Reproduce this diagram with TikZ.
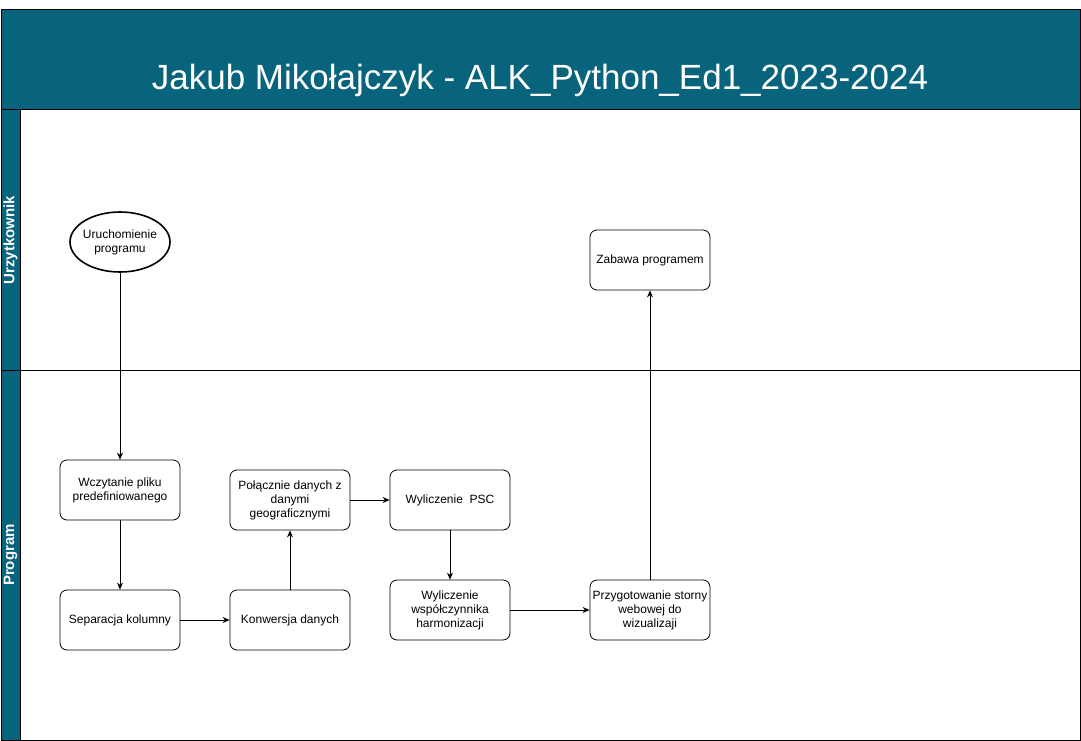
\documentclass[tikz,border=0pt]{standalone}
\usepackage{fontspec}
\setmainfont{Liberation Sans}
\usetikzlibrary{shapes.geometric}
\usetikzlibrary{arrows.meta}
\usetikzlibrary{positioning}
\definecolor{lanebg}{HTML}{08637C}

\begin{document}
\begin{tikzpicture}[x=1pt,y=-1pt,
        box/.style={draw, rounded corners=7pt, minimum width=120pt, minimum height=60pt,
            align=center, font=\fontsize{12}{14}\selectfont, line width=0.8pt},
        flow/.style={-{Stealth[length=7pt,width=6pt]}, line width=0.8pt},
        lanetitle/.style={rotate=90, text=white, font=\fontsize{15}{18}\selectfont\bfseries}]
            \useasboundingbox (0,0) rectangle (1081,741);

            % Header and lanes
            \fill[lanebg] (1,10) rectangle (1080,110);
            \fill[lanebg] (1,110) rectangle (20,740);
            \draw[line width=1pt] (1,10) rectangle (1080,740);
            \draw[line width=1pt] (1,110) -- (1080,110);
            \draw[line width=0.8pt] (20,110) -- (20,740);
            \draw[line width=0.8pt] (1,370) -- (1080,370);
            \node[text=white, font=\fontsize{35}{40}\selectfont] (title) at (540,80) {Jakub Mikołajczyk - ALK\_Python\_Ed1\_2023-2024};
            \node[lanetitle] (user) at (10.5,240) {Urzytkownik};
            \node[lanetitle] (prog) at (10.5,555) {Program};

            % Steps
            \node[draw, ellipse, line width=1.6pt, inner xsep=-5pt, inner ysep=0pt, minimum width=100pt, minimum height=60pt,
                align=center, font=\fontsize{12}{14}\selectfont] (start) at (120,242) {Uruchomienie\\programu};
            \node[box] (load) at (120,490) {Wczytanie pliku\\predefiniowanego};
            \node[box] (split) at (120,620) {Separacja kolumny};
            \node[box] (conv) at (290,620) {Konwersja danych};
            \node[box] (join) at (290,500) {Połącznie danych z\\danymi\\geograficznymi};
            \node[box] (psc) at (450,500) {Wyliczenie\ \ PSC};
            \node[box] (harm) at (450,610) {Wyliczenie\\współczynnika\\harmonizacji};
            \node[box, inner sep=1pt] (web) at (650,610) {Przygotowanie storny\\webowej do\\wizualizaji};
            \node[box] (play) at (650,260) {Zabawa programem};

            % Connectors
            \draw[flow] (start) -- (load);
            \draw[flow] (load) -- (split);
            \draw[flow] (split) -- (conv);
            \draw[flow] (conv) -- (join);
            \draw[flow] (join) -- (psc);
            \draw[flow] (psc) -- (harm);
            \draw[flow] (harm) -- (web);
            \draw[flow] (web) -- (play);

        \end{tikzpicture}
\end{document}
